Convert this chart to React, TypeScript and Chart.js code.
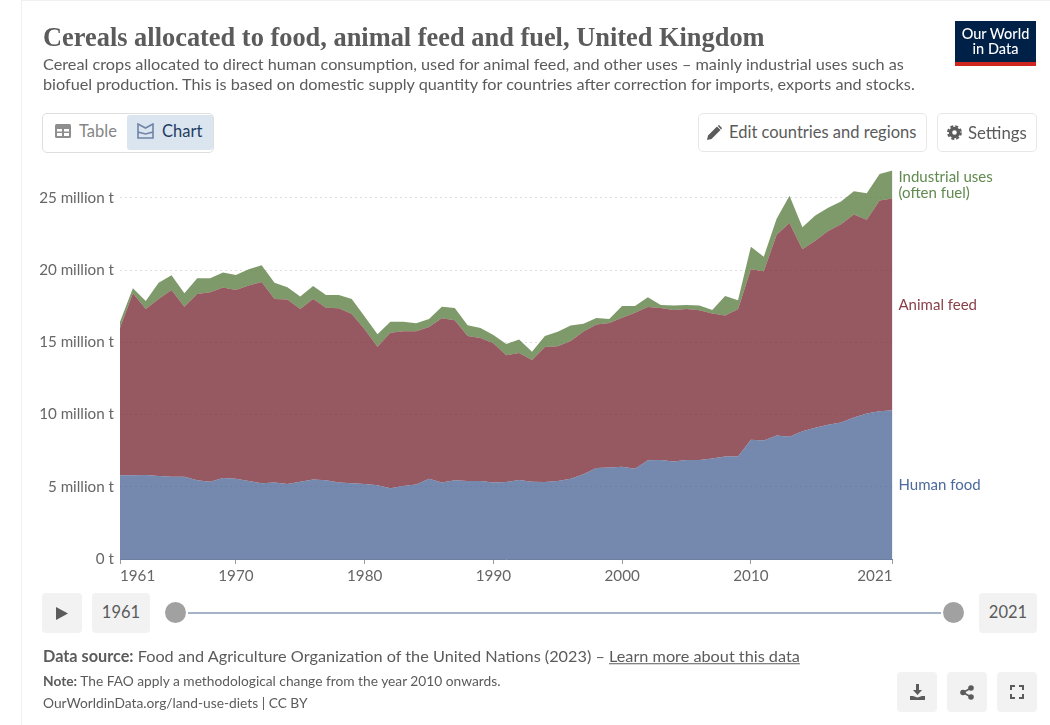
import React, { useEffect, useRef } from "react";
import { Chart, registerables } from "chart.js";

Chart.register(...registerables);

const firstYear = 1961;
const years: number[] = [
  1961, 1962, 1963, 1964, 1965, 1966, 1967, 1968, 1969, 1970, 1971, 1972, 1973, 1974, 1975, 1976, 1977, 1978, 1979, 1980,
  1981, 1982, 1983, 1984, 1985, 1986, 1987, 1988, 1989, 1990, 1991, 1992, 1993, 1994, 1995, 1996, 1997, 1998, 1999, 2000,
  2001, 2002, 2003, 2004, 2005, 2006, 2007, 2008, 2009, 2010, 2011, 2012, 2013, 2014, 2015, 2016, 2017, 2018, 2019, 2020, 2021,
];
const humanFood: number[] = [
  5.8, 5.8, 5.82, 5.75, 5.7, 5.7, 5.45, 5.35, 5.6, 5.55, 5.4, 5.25, 5.3, 5.2, 5.35, 5.5, 5.45, 5.3, 5.25, 5.2,
  5.1, 4.9, 5.05, 5.15, 5.55, 5.3, 5.45, 5.4, 5.4, 5.3, 5.33, 5.47, 5.35, 5.33, 5.4, 5.55, 5.87, 6.3, 6.33, 6.38,
  6.24, 6.84, 6.86, 6.75, 6.86, 6.86, 6.95, 7.1, 7.1, 8.25, 8.2, 8.55, 8.47, 8.85, 9.08, 9.3, 9.45, 9.8, 10.07, 10.23, 10.3,
];
const animalFeed: number[] = [
  10.2, 12.6, 11.48, 12.25, 12.93, 11.77, 12.9, 13.12, 13.2, 13.08, 13.53, 13.93, 12.7, 12.76, 11.95, 12.5, 11.95, 12.06, 11.72, 10.7,
  9.6, 10.77, 10.71, 10.61, 10.51, 11.36, 11.08, 10.04, 9.9, 9.63, 8.77, 8.8, 8.43, 9.35, 9.33, 9.55, 9.88, 9.93, 10.01, 10.33,
  10.8, 10.61, 10.52, 10.49, 10.45, 10.36, 10.04, 9.75, 10.19, 11.81, 11.72, 13.89, 14.8, 12.59, 12.96, 13.41, 13.72, 14.05, 13.41, 14.59, 14.65,
];
const industrialUses: number[] = [
  0.43, 0.34, 0.57, 1.13, 1.02, 0.93, 1.08, 0.96, 1.03, 1.04, 1.13, 1.16, 1.13, 0.85, 0.87, 0.9, 0.88, 0.92, 1.03, 0.88,
  0.86, 0.76, 0.67, 0.56, 0.56, 0.81, 0.85, 0.74, 0.7, 0.58, 0.79, 0.92, 0.56, 0.76, 1.01, 1.06, 0.53, 0.46, 0.28, 0.81,
  0.48, 0.67, 0.21, 0.31, 0.28, 0.33, 0.25, 1.36, 0.62, 1.55, 1.0, 1.11, 1.87, 1.53, 1.74, 1.6, 1.58, 1.61, 1.84, 1.84, 1.94,
];
const xTickYears: number[] = [1961, 1970, 1980, 1990, 2000, 2010, 2021];
const yTickValues: number[] = [0, 5, 10, 15, 20, 25];

const FONT = "Lato, 'Noto Sans', sans-serif";
const BLUE = "#4C6A9C";

const directLabels = {
  id: "directLabels",
  afterDatasetsDraw(chart: any) {
    const ctx = chart.ctx;
    const { x, y } = chart.scales;
    const last = years.length - 1;
    const px = x.getPixelForValue(years[last]) + 6;
    const a = humanFood[last];
    const b = a + animalFeed[last];
    const c = b + industrialUses[last];
    ctx.save();
    ctx.font = `15px ${FONT}`;
    ctx.textBaseline = "middle";
    ctx.textAlign = "left";
    ctx.fillStyle = BLUE;
    ctx.fillText("Human food", px, y.getPixelForValue(a / 2) + 1);
    ctx.fillStyle = "#8a3f47";
    ctx.fillText("Animal feed", px, y.getPixelForValue((a + b) / 2) + 1);
    ctx.fillStyle = "#618a4f";
    const m = y.getPixelForValue((b + c) / 2) + 1;
    ctx.fillText("Industrial uses", px, m - 8);
    ctx.fillText("(often fuel)", px, m + 8);
    ctx.restore();
  },
};

function T({ x, y, s, c, w, children, st }: any) {
  return (
    <div style={{ position: "absolute", left: x, top: y, fontSize: s, color: c || "#5b5b5b", fontWeight: w || 400, whiteSpace: "nowrap", lineHeight: 1.2, transform: "translateY(-50%)", ...st }}>
      {children}
    </div>
  );
}

function Box({ x, y, w, h, bg, border, r, children }: any) {
  return (
    <div style={{ position: "absolute", left: x, top: y, width: w, height: h, background: bg, border, borderRadius: r ?? 4, boxSizing: "border-box", display: "flex", alignItems: "center", justifyContent: "center" }}>
      {children}
    </div>
  );
}

export default function App() {
  const ref = useRef<HTMLCanvasElement | null>(null);
  useEffect(() => {
    if (!ref.current) return;
    const band = (label: string, data: number[], color: string, fill: any) => ({
      label,
      data: data.map((v, i) => ({ x: years[i], y: v })),
      backgroundColor: color,
      borderWidth: 0,
      pointRadius: 0,
      tension: 0,
      fill,
    });
    const chart = new Chart(ref.current, {
      type: "line",
      data: {
        datasets: [
          band("Human food", humanFood, "rgba(76,100,150,0.77)", "origin"),
          band("Animal feed", animalFeed, "rgba(124,48,57,0.8)", "-1"),
          band("Industrial uses (often fuel)", industrialUses, "rgba(90,124,64,0.78)", "-1"),
        ],
      },
      plugins: [directLabels],
      options: {
        animation: false,
        responsive: false,
        events: [],
        layout: { padding: { top: 169, right: 157.5, bottom: 136, left: 0 } },
        plugins: { legend: { display: false }, tooltip: { enabled: false } },
        scales: {
          x: {
            type: "linear",
            min: firstYear,
            max: 2021,
            afterBuildTicks: (s: any) => {
              s.ticks = xTickYears.map((v) => ({ value: v }));
            },
            afterFit: (s: any) => {
              s.height = 30;
            },
            grid: { drawOnChartArea: false, drawTicks: true, tickLength: 5, color: "#999" },
            border: { display: true, color: "#6f7f9f" },
            ticks: {
              align: "inner",
              maxRotation: 0,
              padding: 3,
              autoSkip: false,
              color: "#666",
              font: { family: FONT, size: 15.2 },
              callback: (v: any) => String(v),
            },
          },
          y: {
            stacked: true,
            min: 0,
            max: 27,
            afterBuildTicks: (s: any) => {
              s.ticks = yTickValues.map((v) => ({ value: v }));
            },
            afterFit: (s: any) => {
              s.width = 120;
            },
            grid: { color: "#dddddd", drawTicks: false, lineWidth: 1 },
            border: { display: false, dash: [2, 3] },
            ticks: {
              padding: 6,
              color: "#666",
              font: { family: FONT, size: 15.2 },
              callback: (v: any) => (v === 0 ? "0 t" : `${v} million t`),
            },
          },
        },
      },
    } as any);
    return () => chart.destroy();
  }, []);

  return (
    <div style={{ position: "absolute", left: 0, top: 0, width: 1050, height: 725, overflow: "hidden", background: "#fff", fontFamily: FONT }}>
      <div style={{ position: "absolute", left: 21, top: 0, width: 1029, height: 725, borderLeft: "1px solid #f0f0f0", borderTop: "1px solid #f0f0f0", boxSizing: "border-box" }} />
      <canvas ref={ref} width={1050} height={725} style={{ position: "absolute", left: 0, top: 0, width: 1050, height: 725 }} />

      <T x={43} y={37.5} s={26.4} w={700} st={{ fontFamily: "'Liberation Serif', serif" }}>Cereals allocated to food, animal feed and fuel, United Kingdom</T>
      <T x={43} y={64} s={16.25}>Cereal crops allocated to direct human consumption, used for animal feed, and other uses – mainly industrial uses such as</T>
      <T x={43} y={84} s={16.25}>biofuel production. This is based on domestic supply quantity for countries after correction for imports, exports and stocks.</T>

      <div style={{ position: "absolute", left: 955, top: 21, width: 81, height: 45, background: "#002147" }}>
        <div style={{ position: "absolute", left: 0, bottom: 0, width: 81, height: 4, background: "#ce261e" }} />
        <div style={{ position: "absolute", left: 0, top: 5, width: 81, textAlign: "center", color: "#fff", fontSize: 14.5, lineHeight: "15px", fontWeight: 500 }}>Our World<br />in Data</div>
      </div>

      <Box x={42} y={113} w={172} h={40} border="1px solid #dedede" r={5} bg="#fff" />
      <Box x={127} y={115} w={86} h={35} bg="#dbe5f0" r={3} />
      <svg style={{ position: "absolute", left: 55, top: 124 }} width={16} height={15} viewBox="0 0 16 15">
        <rect x={0} y={0} width={16} height={14} rx={1.5} fill="#8e8e8e" />
        <path d="M2 5h5v2.5H2zM9 5h5v2.5H9zM2 9h5v3H2zM9 9h5v3H9z" fill="#fff" />
      </svg>
      <T x={79} y={131.5} s={16.5} c="#858585">Table</T>
      <svg style={{ position: "absolute", left: 137, top: 123 }} width={17} height={16} viewBox="0 0 17 16">
        <path d="M1 1v14h15V1L8.5 5 1 1zM1 9l7.5 2L16 9" fill="none" stroke="#6f84a6" strokeWidth={1.6} />
      </svg>
      <T x={162} y={131.5} s={16.5} c="#1d3d63">Chart</T>

      <Box x={698} y={113} w={229} h={39} border="1px solid #e7e7e7" r={5} bg="#fff" />
      <svg style={{ position: "absolute", left: 707, top: 125 }} width={15} height={15} viewBox="0 0 15 15">
        <path d="M0 15l1-4.5L10 1.5 13.5 5l-9 9L0 15zM11 .5l1-.5 3 3-.5 1-.5.5L11 1z" fill="#5b5b5b" />
      </svg>
      <T x={729} y={132.5} s={16.5}>Edit countries and regions</T>
      <Box x={937} y={113} w={100} h={39} border="1px solid #e7e7e7" r={5} bg="#fff" />
      <svg style={{ position: "absolute", left: 947, top: 125 }} width={15} height={15} viewBox="0 0 15 15">
        <circle cx={7.5} cy={7.5} r={4} fill="none" stroke="#5b5b5b" strokeWidth={3.4} />
        <circle cx={7.5} cy={7.5} r={6.4} fill="none" stroke="#5b5b5b" strokeWidth={2} strokeDasharray="3 2.03" />
      </svg>
      <T x={968} y={132.5} s={16.8}>Settings</T>

      <Box x={42} y={593} w={40} h={40} bg="#f2f2f2">
        <svg width={12} height={13} viewBox="0 0 12 13"><path d="M0 0l12 6.5L0 13z" fill="#5b5b5b" /></svg>
      </Box>
      <Box x={92} y={593} w={58} h={40} bg="#f2f2f2"><span style={{ fontSize: 16.5, color: "#5b5b5b", marginTop: -3 }}>1961</span></Box>
      <div style={{ position: "absolute", left: 188, top: 612, width: 753, height: 2, background: "#a4b3c6" }} />
      <div style={{ position: "absolute", left: 165, top: 602, width: 21, height: 21, borderRadius: "50%", background: "#a1a1a1" }} />
      <div style={{ position: "absolute", left: 943, top: 602, width: 21, height: 21, borderRadius: "50%", background: "#a1a1a1" }} />
      <Box x={979} y={593} w={58} h={40} bg="#f2f2f2"><span style={{ fontSize: 16.5, color: "#5b5b5b", marginTop: -3 }}>2021</span></Box>

      <T x={43} y={656} s={16.25}>
        <b>Data source:</b> Food and Agriculture Organization of the United Nations (2023) – <u>Learn more about this data</u>
      </T>
      <T x={43} y={680.5} s={13.75}><b>Note:</b> The FAO apply a methodological change from the year 2010 onwards.</T>
      <T x={43} y={702.5} s={13.75}>OurWorldinData.org/land-use-diets | CC BY</T>

      <Box x={897} y={672} w={40} h={40} bg="#f2f2f2">
        <svg width={15} height={16} viewBox="0 0 15 16"><path d="M6 0h3v6h3L7.500 11 3 6h3zM0 12h3l4.500 1.500L12 12h3v4H0z" fill="#5b5b5b" /></svg>
      </Box>
      <Box x={947} y={672} w={40} h={40} bg="#f2f2f2">
        <svg width={14} height={15} viewBox="0 0 14 15">
          <circle cx={11} cy={3} r={2.8} fill="#5b5b5b" /><circle cx={3} cy={7.500} r={2.800} fill="#5b5b5b" /><circle cx={11} cy={12} r={2.800} fill="#5b5b5b" />
          <path d="M11 3L3 7.500 11 12" stroke="#5b5b5b" strokeWidth={1.600} fill="none" />
        </svg>
      </Box>
      <Box x={997} y={672} w={40} h={40} bg="#f2f2f2">
        <svg width={14} height={14} viewBox="0 0 14 14"><path d="M1 5V1h4M9 1h4v4M13 9v4H9M5 13H1V9" fill="none" stroke="#5b5b5b" strokeWidth={2} /></svg>
      </Box>
    </div>
  );
}
